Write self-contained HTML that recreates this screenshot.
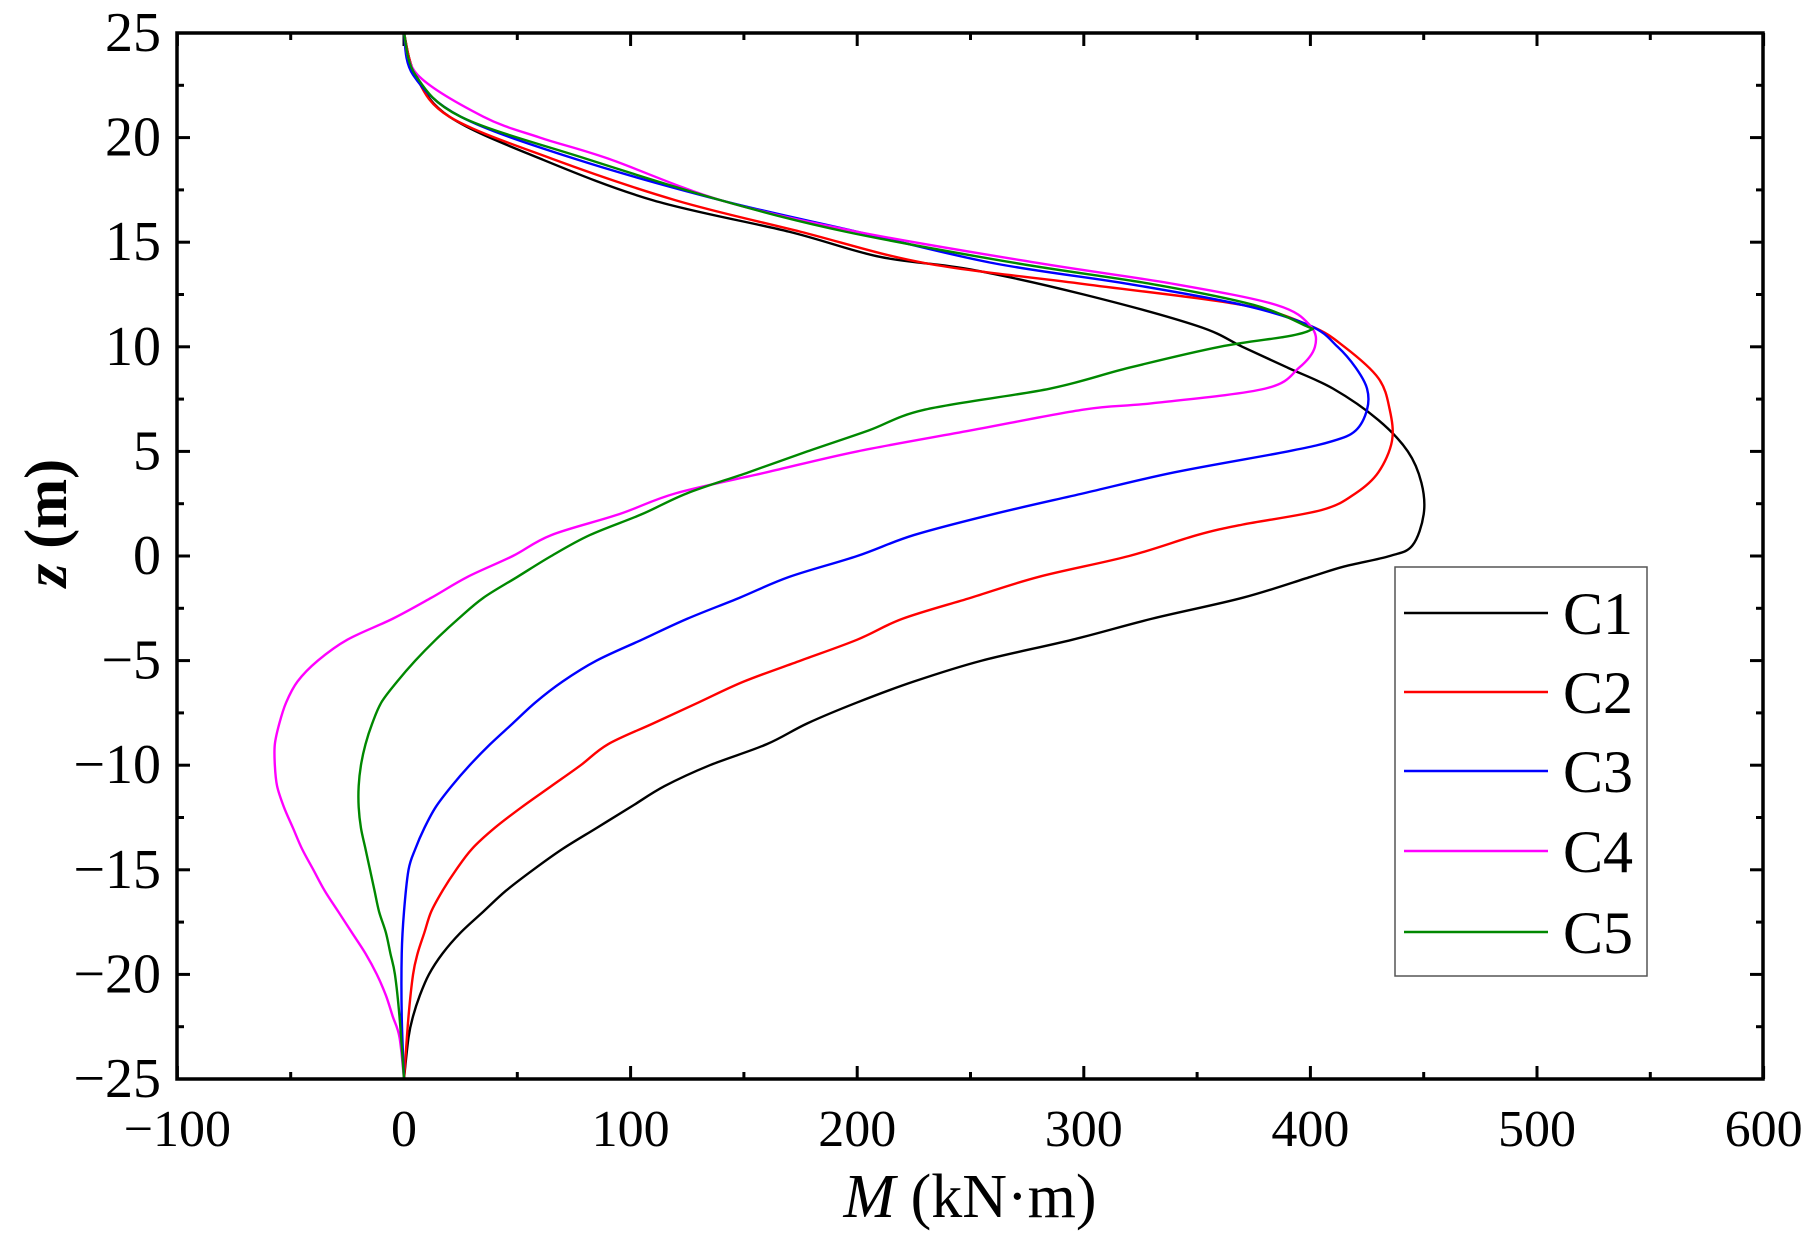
<!DOCTYPE html>
<html><head><meta charset="utf-8"><style>
html,body{margin:0;padding:0;background:#fff;}
svg{display:block;font-family:"Liberation Serif",serif;}
</style></head><body>
<svg id="s" width="1815" height="1236" viewBox="0 0 1815 1236" xmlns="http://www.w3.org/2000/svg">
<g id="ticks" stroke="#000" stroke-width="3"></g>
<g id="curves" fill="none" stroke-width="2.4"></g>
<rect x="177" y="33" width="1586" height="1046" fill="none" stroke="#000" stroke-width="3.5"/>
<g id="labels" font-size="52" fill="#000"></g>
<g id="ylabels" font-size="56" fill="#000"></g>
<text x="970" y="1217" font-size="62" text-anchor="middle"><tspan font-style="italic">M</tspan> (kN·m)</text>
<text transform="translate(66,523) rotate(-90)" font-size="60" font-weight="bold" text-anchor="middle"><tspan font-style="italic">z</tspan> (m)</text>
<rect x="1395" y="567" width="252" height="409" fill="#fff" stroke="#555" stroke-width="1.5"/>
<g id="legend" font-size="60"></g>
</svg>
<script>
var NS="http://www.w3.org/2000/svg";
function px(m){return 404+2.266*m;}
function py(z){return 33+(25-z)*20.92;}
function el(p,t,a,txt){var e=document.createElementNS(NS,t);for(var k in a)e.setAttribute(k,a[k]);if(txt!==undefined)e.textContent=txt;document.getElementById(p).appendChild(e);}
for(var m=-100;m<=600;m+=50){var x=px(m),L=(m%100==0)?13:7;
 el('ticks','line',{x1:x,y1:1079,x2:x,y2:1079-L});el('ticks','line',{x1:x,y1:33,x2:x,y2:33+L});
 if(m%100==0)el('labels','text',{x:x,y:1146,'text-anchor':'middle'},(m<0?'\u2212':'')+Math.abs(m));}
for(var z=-25;z<=25;z+=2.5){var y=py(z),L=(z%5==0)?13:7;
 el('ticks','line',{x1:177,y1:y,x2:177+L,y2:y});el('ticks','line',{x1:1763,y1:y,x2:1763-L,y2:y});
 if(z%5==0)el('ylabels','text',{x:161,y:y+18,'text-anchor':'end'},(z<0?'\u2212':'')+Math.abs(z));}
var D={
'#000':[[25,0],[23,5],[21,20],[19,60],[17,110],[15.5,170],[14.3,210],[13.7,250],[12.5,300],[11,350],[10,370],[9,390],[8,410],[6.5,430],[5,443],[3.5,449],[2,450],[0.5,445],[0,435],[-0.5,415],[-1,400],[-2,370],[-3,330],[-4,295],[-5,255],[-6,225],[-7,200],[-8,178],[-9,160],[-10,135],[-11,115],[-12,100],[-13,85],[-14,70],[-15,57],[-16,45],[-17,35],[-18,25],[-19,17],[-20,11],[-21,7],[-22,4],[-23,2],[-25,0]],
'#f00':[[25,0],[23,5],[21,20],[19,65],[17,120],[15.5,175],[14,230],[13,300],[12,370],[11,400],[10,415],[8.5,430],[7,435],[5.5,436],[4,430],[3,420],[2.2,405],[1.5,370],[1,350],[0,320],[-1,280],[-2,250],[-3,220],[-4,200],[-5,175],[-6,150],[-7,130],[-8,110],[-9,90],[-10,78],[-11,65],[-12,52],[-13,40],[-14,30],[-15,23],[-16,17],[-17,12],[-18,9],[-19,6],[-20,4],[-22,2],[-25,0]],
'#00f':[[25,0],[23,4],[21,25],[19,75],[17,140],[15.5,200],[14,260],[13,320],[12,370],[11,400],[10,412],[9,420],[8,425],[7,425],[6,420],[5.5,410],[5,390],[4,340],[3,300],[2,260],[1,225],[0,200],[-1,170],[-2,148],[-3,125],[-4,105],[-5,85],[-6,70],[-7,58],[-8,48],[-9,38],[-10,29],[-11,21],[-12,14],[-13,9],[-14,5],[-15,2],[-17,0],[-19,-1],[-22,-1],[-25,0]],
'#f0f':[[25,0],[23,6],[21,35],[20,60],[19,90],[17,140],[15.5,200],[14,280],[13,340],[12,385],[11,400],[10,402],[9,395],[8,380],[7.3,330],[7,300],[6,250],[5,200],[4,160],[3,120],[2,95],[1,65],[0,48],[-1,28],[-2,12],[-3,-5],[-4,-25],[-5,-38],[-6,-47],[-7,-52],[-8,-55],[-9,-57],[-10,-57],[-11,-56],[-12,-53],[-13,-49],[-14,-45],[-15,-40],[-16,-35],[-17,-29],[-18,-23],[-19,-17],[-20,-12],[-21,-8],[-22,-5],[-23,-2],[-25,0]],
'#080':[[25,0],[23,5],[21,25],[19,80],[17,140],[15.5,195],[14,270],[13,330],[12,375],[11,398],[10.8,400],[10.5,390],[10,360],[9,320],[8,285],[7,230],[6,205],[5,178],[4,152],[3,125],[2,105],[1,82],[0,65],[-1,50],[-2,35],[-3,24],[-4,14],[-5,5],[-6,-3],[-7,-10],[-8,-14],[-9,-17],[-10,-19],[-11,-20],[-12,-20],[-13,-19],[-14,-17],[-15,-15],[-16,-13],[-17,-11],[-18,-8],[-19,-6],[-20,-4],[-22,-2],[-25,0]]};
for(var c in D){var p=D[c].map(function(a){return [px(a[1]),py(a[0])];});
 var d='M'+p[0][0]+','+p[0][1];
 for(var i=0;i<p.length-1;i++){var p0=p[Math.max(i-1,0)],p1=p[i],p2=p[i+1],p3=p[Math.min(i+2,p.length-1)];
  d+=' C'+(p1[0]+(p2[0]-p0[0])/6)+','+(p1[1]+(p2[1]-p0[1])/6)+' '+(p2[0]-(p3[0]-p1[0])/6)+','+(p2[1]-(p3[1]-p1[1])/6)+' '+p2[0]+','+p2[1];}
 el('curves','path',{d:d,stroke:c});}
var cols=['#000','#f00','#00f','#f0f','#080'],ys=[613,692,771,851,932];
for(var i=0;i<5;i++){el('legend','line',{x1:1404,x2:1548,y1:ys[i],y2:ys[i],stroke:cols[i],'stroke-width':2.4});
 el('legend','text',{x:1563,y:ys[i]+21},'C'+(i+1));}
</script>
</body></html>
